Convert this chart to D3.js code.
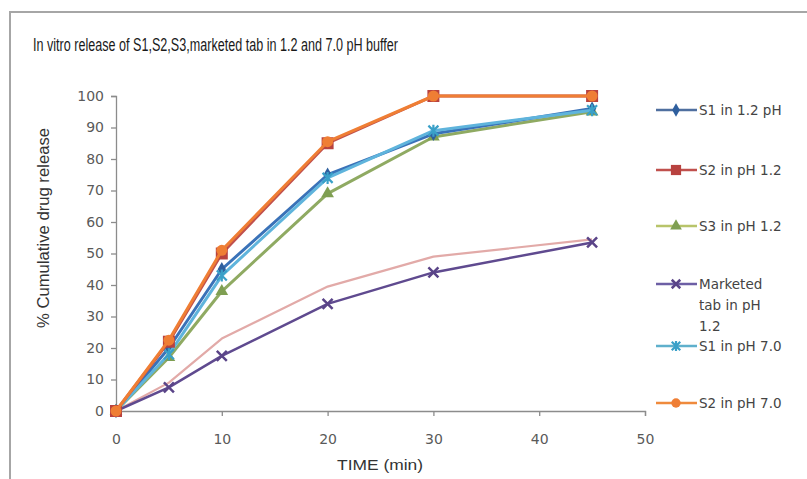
<!DOCTYPE html>
<html>
<head>
<meta charset="utf-8">
<script src="https://cdn.jsdelivr.net/npm/d3@7"></script>
<style>
  html, body { margin: 0; padding: 0; background: #ffffff; }
  svg { display: block; }
</style>
</head>
<body>
<svg id="chart" width="807" height="479"></svg>
<script>
// ---- data ----
const times = [0, 5, 10, 20, 30, 45];
const s1pH12 = [0, 20, 45, 75, 88, 96];
const s2pH12 = [0, 22, 50, 85, 100, 100];
const s3pH12 = [0, 17, 38, 69, 87, 95];
const marketedPH12 = [0, 7.5, 17.5, 34, 44, 53.5];
const s1pH70 = [0, 18, 43, 74, 89, 95.5];
const s2pH70 = [0, 22.5, 51, 85.5, 100, 100];
const marketedPH70 = [0, 9, 23, 39.5, 49, 54.5];
const seriesNames = ["S1 in 1.2 pH", "S2 in pH 1.2", "S3 in pH 1.2", "Marketed tab in pH 1.2", "S1 in pH 7.0", "S2 in pH 7.0", "Marketed tab in pH 7.0"];
const xTicks = [0, 10, 20, 30, 40, 50];
const yTicks = [0, 10, 20, 30, 40, 50, 60, 70, 80, 90, 100];
const titleText = "In vitro release of S1,S2,S3,marketed tab in 1.2 and 7.0 pH buffer";
const xTitle = "TIME (min)";
const yTitle = "% Cumulative drug release";

// ---- styles ----
const styles = [
  {line: "#3a72b8", marker: "diamond", mfill: "#2f5f9e", width: 3, legendLine: "#4f6f9f"},
  {line: "#c0504d", marker: "square", mfill: "#b8423f", width: 3, legendLine: "#c0504d"},
  {line: "#8faa62", marker: "triangle", mfill: "#7f9f52", width: 3, legendLine: "#b8c46a"},
  {line: "#5f4a8f", marker: "x", mfill: "#5a4488", width: 2.5, legendLine: "#6d5fa5"},
  {line: "#5fb4dc", marker: "star", mfill: "#3aa0c8", width: 3, legendLine: "#5fb0cc"},
  {line: "#ef7e34", marker: "circle", mfill: "#ef7e34", width: 3, legendLine: "#ef8a3c"},
  {line: "#e2aaa8", marker: "none", mfill: "#e2aaa8", width: 2.2, legendLine: "#e2aaa8"}
];
const allSeries = [s1pH12, s2pH12, s3pH12, marketedPH12, s1pH70, s2pH70, marketedPH70];

const svg = d3.select("#chart");

// frame
svg.append("rect").attr("x", 10).attr("y", 12).attr("width", 820).attr("height", 500)
  .attr("fill", "#ffffff").attr("stroke", "#a6a6a6").attr("stroke-width", 2);

const x = d3.scaleLinear().domain([0, 50]).range([116, 645]);
const y = d3.scaleLinear().domain([0, 100]).range([411, 96]);

const narrow = "'Liberation Sans Narrow', 'Liberation Sans', Arial, sans-serif";
// title
svg.append("text").attr("x", 33).attr("y", 51)
  .attr("font-family", narrow)
  .attr("font-size", 17.5).attr("fill", "#1a1a1a")
  .attr("textLength", 365).attr("lengthAdjust", "spacingAndGlyphs")
  .text(titleText);

// axes
const axisColor = "#8c8c8c";
const tickFont = "'DejaVu Sans', Verdana, sans-serif";
const yAxis = svg.append("g").attr("transform", `translate(${x(0)},0)`)
  .call(d3.axisLeft(y).tickValues(yTicks).tickSize(5).tickPadding(7).tickFormat(d3.format("d")));
const xAxis = svg.append("g").attr("transform", `translate(0,${y(0)})`)
  .call(d3.axisBottom(x).tickValues(xTicks).tickSize(5).tickPadding(18).tickFormat(d3.format("d")).tickSizeOuter(5));
[yAxis, xAxis].forEach(g => {
  g.selectAll("path.domain").attr("stroke", axisColor).attr("stroke-width", 1.3);
  g.selectAll(".tick line").attr("stroke", axisColor).attr("stroke-width", 1.3);
  g.selectAll(".tick text").attr("font-family", tickFont).attr("font-size", 14).attr("fill", "#5a5a5a");
});

// axis titles
svg.append("text")
  .attr("transform", `translate(49,228) rotate(-90)`)
  .attr("text-anchor", "middle")
  .attr("font-family", narrow)
  .attr("font-size", 16).attr("fill", "#333333")
  .attr("textLength", 200).attr("lengthAdjust", "spacingAndGlyphs")
  .text(yTitle);
svg.append("text").attr("x", 380).attr("y", 470).attr("text-anchor", "middle")
  .attr("font-family", narrow)
  .attr("font-size", 14.5).attr("fill", "#333333")
  .attr("textLength", 86).attr("lengthAdjust", "spacingAndGlyphs")
  .text(xTitle);

// marker drawing
function drawMarker(g, type, cx, cy, color, scale) {
  const s = scale || 1;
  if (type === "diamond") {
    g.append("path").attr("d", d3.symbol(d3.symbolDiamond, 60 * s)()).attr("transform", `translate(${cx},${cy})`).attr("fill", color);
  } else if (type === "square") {
    g.append("rect").attr("x", cx - 6 * s).attr("y", cy - 6 * s).attr("width", 12 * s).attr("height", 12 * s).attr("fill", color);
  } else if (type === "triangle") {
    g.append("path").attr("d", d3.symbol(d3.symbolTriangle, 70 * s)()).attr("transform", `translate(${cx},${cy})`).attr("fill", color);
  } else if (type === "x") {
    g.append("path").attr("d", `M${cx - 5 * s},${cy - 5 * s}L${cx + 5 * s},${cy + 5 * s}M${cx + 5 * s},${cy - 5 * s}L${cx - 5 * s},${cy + 5 * s}`)
      .attr("stroke", color).attr("stroke-width", 2.5);
  } else if (type === "star") {
    g.append("path").attr("d", `M${cx - 5 * s},${cy - 5 * s}L${cx + 5 * s},${cy + 5 * s}M${cx + 5 * s},${cy - 5 * s}L${cx - 5 * s},${cy + 5 * s}M${cx},${cy - 6 * s}L${cx},${cy + 6 * s}`)
      .attr("stroke", color).attr("stroke-width", 2.2);
  } else if (type === "circle") {
    g.append("circle").attr("cx", cx).attr("cy", cy).attr("r", 5.5 * s).attr("fill", color);
  }
}

// draw series (pink first, then others)
const order = [6, 3, 2, 0, 4, 1, 5];
const line = d3.line().x(d => x(d[0])).y(d => y(d[1]));
const plot = svg.append("g");
order.forEach(i => {
  const pts = times.map((t, k) => [t, allSeries[i][k]]);
  const st = styles[i];
  const g = plot.append("g");
  g.append("path").datum(pts).attr("d", line).attr("fill", "none")
    .attr("stroke", st.line).attr("stroke-width", st.width).attr("stroke-linejoin", "round");
  pts.forEach(p => drawMarker(g, st.marker, x(p[0]), y(p[1]), st.mfill, 1));
});

// legend
const legendYs = [110, 170, 226, 284, 346, 403];
const legend = svg.append("g");
for (let i = 0; i < 6; i++) {
  const st = styles[i];
  const ly = legendYs[i];
  legend.append("line").attr("x1", 656).attr("x2", 697).attr("y1", ly).attr("y2", ly)
    .attr("stroke", st.legendLine).attr("stroke-width", 2.5);
  drawMarker(legend, st.marker, 676, ly, st.mfill, 0.85);
  const t = legend.append("text").attr("x", 699).attr("y", ly + 5)
    .attr("font-family", tickFont).attr("font-size", 13.5).attr("fill", "#444444");
  if (i === 3) {
    const parts = ["Marketed", "tab in pH", "1.2"];
    parts.forEach((p, k) => t.append("tspan").attr("x", 699).attr("dy", k === 0 ? 0 : 21).text(p));
  } else {
    t.text(seriesNames[i]);
  }
}
</script>
</body>
</html>
